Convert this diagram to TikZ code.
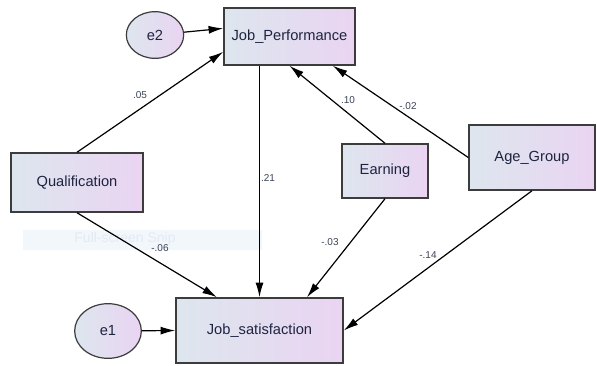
\documentclass[tikz,border=0pt]{standalone}
\usepackage{fontspec}
\setmainfont{Liberation Sans}
\usetikzlibrary{arrows.meta,shapes.geometric}
\definecolor{boxleft}{HTML}{DDE6EE}
\definecolor{boxright}{HTML}{EAD4F2}
\definecolor{boxline}{HTML}{3C3C3C}
\definecolor{vartext}{HTML}{1E2440}
\definecolor{wtext}{HTML}{3A4256}
\definecolor{snipfill}{HTML}{F2F7FC}
\definecolor{sniptext}{HTML}{E2EAF3}

\begin{document}
\begin{tikzpicture}[x=0.75pt,y=-0.75pt,
        var/.style={draw=boxline,line width=1.1pt,left color=boxleft,right color=boxright,
            inner sep=0pt,font=\fontsize{11}{13}\selectfont,text=vartext},
        err/.style={var,ellipse,line width=0.9pt},
        reg/.style={draw=black,line width=0.9pt,-{Latex[length=11pt,width=6pt]}},
        wt/.style={font=\fontsize{7.5}{9}\selectfont,text=wtext}]
    \useasboundingbox (0,0) rectangle (597,365);
    % screen-snip overlay
    \node (snip) [fill=snipfill,minimum width=179.25pt,minimum height=15pt,inner sep=0pt] at (142.5,240) {};
    \node (sniplabel) [font=\fontsize{10.5}{12}\selectfont,text=sniptext,inner sep=0pt] at (125,238.5) {Full-screen Snip};
    % variables
    \node (jp) [var,minimum width=98.25pt,minimum height=42.75pt] at (289.5,36.5) {Job\_Performance};
    \node (qual) [var,minimum width=99pt,minimum height=44.25pt] at (77,182.5) {Qualification};
    \node (earn) [var,minimum width=64.5pt,minimum height=40.5pt] at (385,171) {Earning};
    \node (age) [var,minimum width=94.5pt,minimum height=48.75pt] at (532,157.5) {Age\_Group};
    \node (js) [var,minimum width=125.25pt,minimum height=48.75pt] at (259.5,330.5) {Job\_satisfaction};
    \node (e2) [err,minimum width=43pt,minimum height=35pt] at (155,35) {e2};
    \node (e1) [err,minimum width=50pt,minimum height=41pt] at (108,331) {e1};
    % paths
    \draw [reg] (e2) -- (jp.173);
    \draw [reg] (e1) -- (js.west);
    \draw [reg] (qual.north) -- (jp.193);
    \draw [reg] (earn.north) -- (jp.south);
    \draw [reg] (age.west) -- (jp.-34);
    \draw [reg] (js.north |- jp.south) -- (js.north);
    \draw [reg] (qual.south) -- (js.142);
    \draw [reg] (earn.south) -- (js.35);
    \draw [reg] (age.south) -- (js.east);
    % weights
    \node (w1) [wt] at (140,95) {.05};
    \node (w2) [wt] at (348,100) {.10};
    \node (w3) [wt] at (408,106) {-.02};
    \node (w4) [wt] at (268,178) {.21};
    \node (w5) [wt] at (160,248) {-.06};
    \node (w6) [wt] at (330,242) {-.03};
    \node (w7) [wt] at (428,255) {-.14};
\end{tikzpicture}
\end{document}
